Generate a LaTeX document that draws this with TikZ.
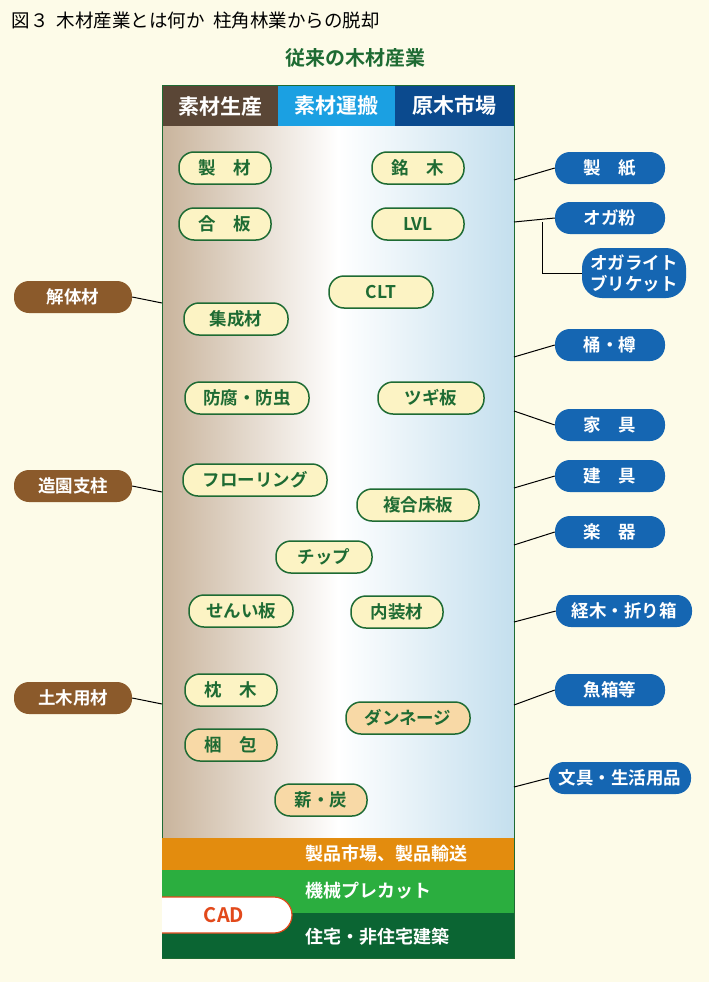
\documentclass[tikz,border=0pt]{standalone}
\usepackage{fontspec}
\setmainfont{Noto Sans CJK JP}
\newfontfamily\jpbold{Noto Sans CJK JP Bold}
\usetikzlibrary{positioning}
\definecolor{bgcream}{HTML}{FDFBE8}
\definecolor{woodbrown}{HTML}{5A4636}
\definecolor{skyblue}{HTML}{1BA0E2}
\definecolor{navyblue}{HTML}{0B4A8E}
\definecolor{pillgreen}{HTML}{1E6B33}
\definecolor{pillcream}{HTML}{FCF3C4}
\definecolor{pillpeach}{HTML}{F8D9A6}
\definecolor{leftbrown}{HTML}{8B5A2B}
\definecolor{rightblue}{HTML}{1566B2}
\definecolor{bandorange}{HTML}{E38C0E}
\definecolor{bandgreen}{HTML}{2BAE3F}
\definecolor{banddark}{HTML}{0B6533}
\definecolor{cadred}{HTML}{E2491B}
\definecolor{woodtint}{HTML}{C9B49C}
\definecolor{skytint}{HTML}{C4DFEE}

\begin{document}
\begin{tikzpicture}[x=1pt,y=-1pt,
	every node/.style={font=\jpbold\fontsize{17.5}{20}\selectfont},
	usepill/.style={draw=pillgreen,line width=1.5pt,fill=pillcream,text=pillgreen,
		rounded corners=15pt,minimum height=32pt,minimum width=92pt,inner sep=2pt},
	peachpill/.style={usepill,fill=pillpeach},
	srcpill/.style={fill=leftbrown,text=white,rounded corners=15pt,
		minimum height=32pt,minimum width=118pt,inner sep=2pt},
	outpill/.style={fill=rightblue,text=white,rounded corners=15pt,
		minimum height=32pt,minimum width=110pt,inner sep=2pt,align=center},
	head/.style={text=white,anchor=center,font=\jpbold\fontsize{21}{23}\selectfont},
	band/.style={text=white,anchor=west,font=\jpbold\fontsize{18}{20}\selectfont}]

\useasboundingbox[fill=bgcream] (0,0) rectangle (709,982);

% Titles
\node[anchor=west,font=\fontsize{18.5}{20}\selectfont] (title) at (8,20) {図３\ \ 木材産業とは何か\ \ 柱角林業からの脱却};
\node[text=pillgreen,font=\jpbold\fontsize{20}{22}\selectfont] (subtitle) at (355,58) {従来の木材産業};

% Header
\fill[woodbrown] (162,85) rectangle (278,126);
\fill[skyblue] (278,85) rectangle (395,126);
\fill[navyblue] (395,85) rectangle (514,126);
\node[head] (h1) at (220,106) {素材生産};
\node[head] (h2) at (336,106) {素材運搬};
\node[head] (h3) at (454,106) {原木市場};

% Body
\shade[left color=woodtint,right color=skytint,middle color=white]
	(162,126) rectangle (514,838);
\draw[pillgreen,line width=1pt] (162,85) rectangle (514,958);

% Bands
\fill[bandorange] (162,838) rectangle (514,870);
\fill[bandgreen] (162,870) rectangle (514,913);
\fill[banddark] (162,913) rectangle (514,958);
\node[band] (b1) at (302,854) {製品市場、製品輸送};
\node[band] (b2) at (302,891) {機械プレカット};
\node[band] (b3) at (302,937) {住宅・非住宅建築};
\draw[cadred,fill=white,line width=1.2pt] (162,897) -- (274,897)
	arc[start angle=-90,end angle=90,radius=18] -- (162,933);
\node[text=cadred,font=\jpbold\fontsize{20}{22}\selectfont] (cad) at (224,915) {CAD};

% Inner uses
\node[usepill] (seizai) at (225,168) {製\quad 材};
\node[usepill] (meiboku) at (418,168) {銘\quad 木};
\node[usepill] (gouhan) at (225,224) {合\quad 板};
\node[usepill] (lvl) at (418,224) {LVL};
\node[usepill,minimum width=104pt] (clt) at (381,292) {CLT};
\node[usepill,minimum width=104pt] (shusei) at (236,319) {集成材};
\node[usepill,minimum width=124pt] (bofu) at (247,398) {防腐・防虫};
\node[usepill,minimum width=106pt] (tsugi) at (431,398) {ツギ板};
\node[usepill,minimum width=144pt] (floor) at (255,480) {フローリング};
\node[usepill,minimum width=122pt] (fukugo) at (418,505) {複合床板};
\node[usepill,minimum width=96pt] (chip) at (324,557) {チップ};
\node[usepill,minimum width=104pt] (sen) at (241,611) {せんい板};
\node[usepill] (naisou) at (397,612) {内装材};
\node[usepill] (makura) at (231,690) {枕\quad 木};
\node[peachpill,minimum width=124pt] (dunnage) at (408,718) {ダンネージ};
\node[peachpill] (konpo) at (231,745) {梱\quad 包};
\node[peachpill] (maki) at (321,800) {薪・炭};

% Sources (left)
\node[srcpill] (kaitai) at (73,297) {解体材};
\node[srcpill] (zouen) at (73,486) {造園支柱};
\node[srcpill] (doboku) at (73,698) {土木用材};
\draw[line width=1pt] (kaitai.east) -- (162,303);
\draw[line width=1pt] (zouen.east) -- (162,492);
\draw[line width=1pt] (doboku.east) -- (162,704);

% Outputs (right)
\node[outpill] (seishi) at (610,168) {製\quad 紙};
\node[outpill] (ogako) at (610,218) {オガ粉};
\node[outpill,minimum width=104pt,minimum height=50pt,rounded corners=20pt,
	font=\jpbold\fontsize{17.5}{21}\selectfont] (ogalite) at (634,273) {オガライト\\ブリケット};
\node[outpill] (oke) at (610,345) {桶・樽};
\node[outpill] (kagu) at (610,425) {家\quad 具};
\node[outpill] (tategu) at (610,476) {建\quad 具};
\node[outpill] (gakki) at (610,532) {楽\quad 器};
\node[outpill,minimum width=136pt] (kyogi) at (624,611) {経木・折り箱};
\node[outpill] (sakana) at (610,690) {魚箱等};
\node[outpill,minimum width=142pt] (bungu) at (620,778) {文具・生活用品};

\draw[line width=1pt] (514,180) -- (seishi.west);
\draw[line width=1pt] (514,222) -- (ogako.west);
\draw[line width=1pt] (542,222) |- (ogalite.west);
\draw[line width=1pt] (514,357) -- (oke.west);
\draw[line width=1pt] (514,411) -- (kagu.west);
\draw[line width=1pt] (514,488) -- (tategu.west);
\draw[line width=1pt] (514,545) -- (gakki.west);
\draw[line width=1pt] (514,622) -- (kyogi.west);
\draw[line width=1pt] (514,705) -- (sakana.west);
\draw[line width=1pt] (514,787) -- (bungu.west);

\end{tikzpicture}
\end{document}
